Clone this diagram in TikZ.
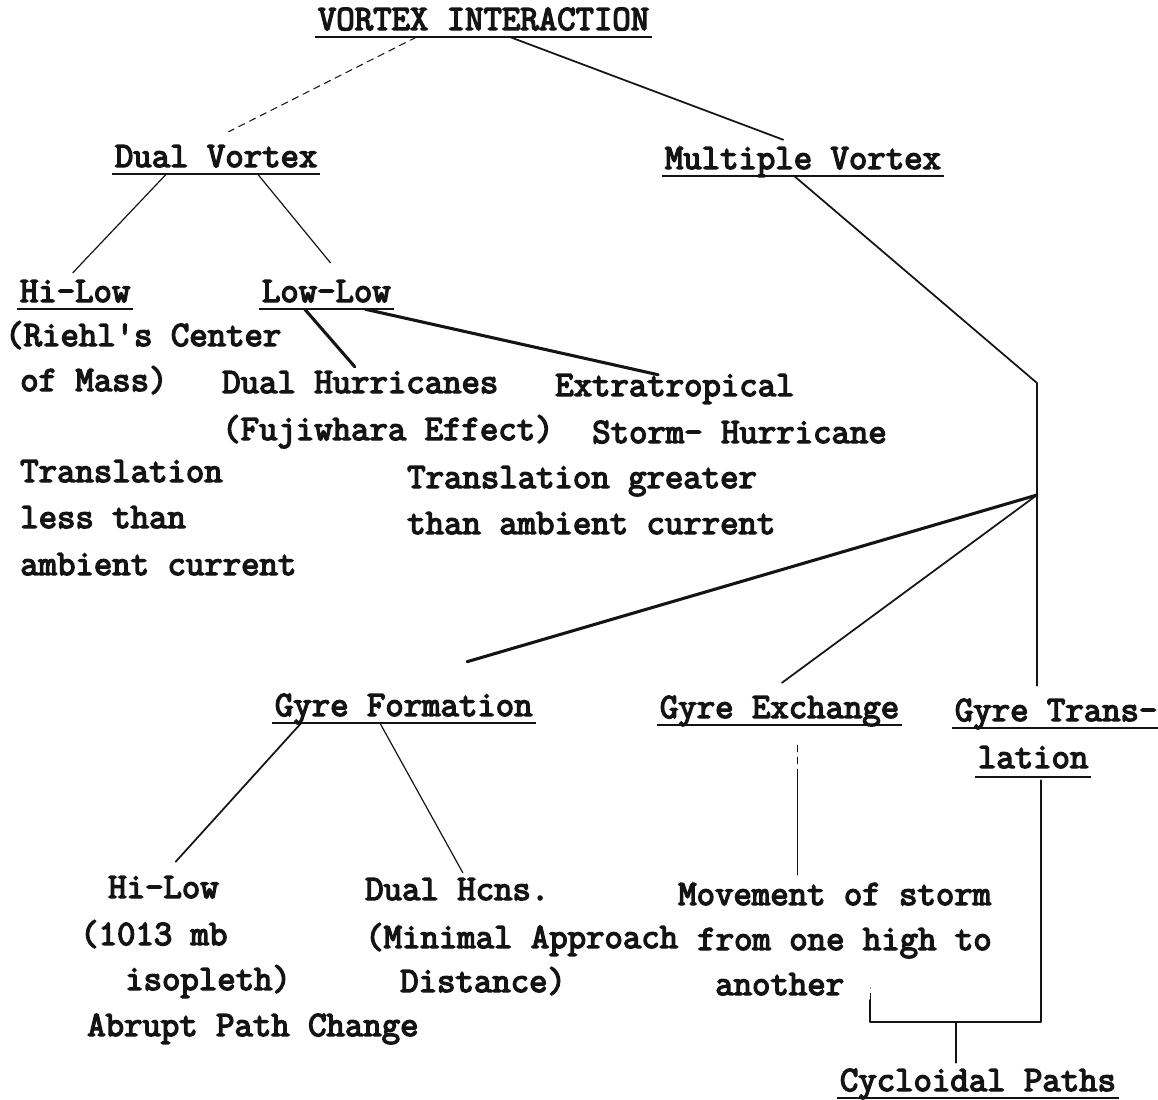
\documentclass[tikz,border=0pt]{standalone}
\usepackage{fontspec}
\newfontfamily\typer{lmmono12-regular}[Extension=.otf, FakeBold=4]
\usetikzlibrary{calc}
\definecolor{inkc}{HTML}{141414}
\tikzset{
  txt/.style={anchor=base west, inner sep=0pt, text height=13.5pt, text depth=5.25pt,
    font=\typer\fontsize{26.8}{30}\selectfont, text=inkc},
  head/.style={txt, inner xsep=2pt},
  uline/.style={draw=inkc, line width=1.3pt},
  link/.style={draw=inkc, line width=1.3pt, line cap=round, line join=round},
  thin/.style={link, line width=0.9pt},
  heavy/.style={link, line width=2.3pt},
  faint/.style={link, line width=0.8pt, dash pattern=on 5pt off 4pt},
}

\begin{document}
\begin{tikzpicture}[x=0.75pt,y=-0.75pt]
\useasboundingbox (0,0) rectangle (1158,1100);

% underlined headings
\node[head] (top) at (315,30) {VORTEX INTERACTION};
\node[head] (dual) at (112,167) {Dual Vortex};
\node[head] (multi) at (662,169) {Multiple Vortex};
\node[head] (hilow) at (17,302) {Hi-Low};
\node[head] (lowlow) at (259,302) {Low-Low};
\node[head] (gform) at (272,716) {Gyre Formation};
\node[head] (gexch) at (657,718) {Gyre Exchange};
\node[head] (gtrans) at (952,721) {Gyre Trans-};
\node[head, text depth=6.75pt] (lation) at (975,768) {lation};
\node[head] (cyc) at (837,1091) {Cycloidal Paths};
\foreach \n in {top,dual,multi,hilow,lowlow,gform,gexch,gtrans,lation,cyc}
  \draw[uline] (\n.south west) -- (\n.south east);

% plain lines of text
\node[txt] (riehlA) at (5,346) {(Riehl's Center};
\node[txt] (riehlB) at (20,391) {of Mass)};
\node[txt] (dualh) at (222,393) {Dual Hurricanes};
\node[txt] (fuji) at (222,440) {(Fujiwhara Effect)};
\node[txt] (extra) at (555,396) {Extratropical};
\node[txt] (storm) at (592,443) {Storm- Hurricane};
\node[txt] (lessA) at (20,482) {Translation};
\node[txt] (lessB) at (20,528) {less than};
\node[txt] (lessC) at (20,575) {ambient current};
\node[txt] (moreA) at (407,488) {Translation greater};
\node[txt] (moreB) at (407,534) {than ambient current};
\node[txt] (hilowB) at (108,898) {Hi-Low};
\node[txt] (mbA) at (80,945) {(1013 mb};
\node[txt] (mbB) at (125,990) {isopleth)};
\node[txt] (abrupt) at (87,1036) {Abrupt Path Change};
\node[txt] (hcns) at (365,900) {Dual Hcns.};
\node[txt] (minA) at (365,948) {(Minimal Approach};
\node[txt] (minB) at (400,992) {Distance)};
\node[txt] (moveA) at (678,905) {Movement of storm};
\node[txt] (moveB) at (697,950) {from one high to};
\node[txt] (moveC) at (715,995) {another};

% upper tree
\draw[faint] ($(top.south west)!.30!(top.south east)$) -- ($(dual.north west)!.56!(dual.north east)+(0,-17)$);
\draw[link] ($(top.south west)!.58!(top.south east)$) -- ($(multi.north west)!.43!(multi.north east)+(0,-11)$);
\draw[thin] ($(dual.south west)!.26!(dual.south east)$) -- ($(hilow.north west)!.48!(hilow.north east)+(0,-11)$);
\draw[thin] ($(dual.south west)!.70!(dual.south east)$) -- ($(lowlow.north west)!.53!(lowlow.north east)+(0,-21)$);
\draw[heavy] ($(lowlow.south west)!.34!(lowlow.south east)$) -- ($(dualh.north west)!.48!(dualh.north east)+(0,-8)$);
\draw[heavy] ($(lowlow.south west)!.79!(lowlow.south east)$) -- ($(extra.north west)!.43!(extra.north east)+(0,-3)$);

% multiple vortex branch
\coordinate (bend) at (1037,383);
\coordinate (fork) at (1037,495);
\draw[link] ($(multi.south west)!.47!(multi.south east)$) -- (bend) -- (fork) -- ($(fork |- gtrans.north)+(0,-17)$);
\draw[heavy] (fork) -- ($(gform.north west)!.74!(gform.north east)+(0,-36)$);
\draw[link] (fork) -- ($(gexch.north west)!.51!(gexch.north east)+(0,-17)$);

% lower tree
\draw[link] ($(gform.south west)!.11!(gform.south east)$) -- ($(hilowB.north west)!.61!(hilowB.north east)+(0,-18)$);
\draw[thin] ($(gform.south west)!.41!(gform.south east)$) -- ($(hcns.north west)!.53!(hcns.north east)+(0,-9)$);
\draw[faint] ($(gexch.south west)!.574!(gexch.south east)+(0,20)$) coordinate (xa) -- ++(0,25) coordinate (xb);
\draw[thin] (xb) -- ($(xb |- moveA.north)+(0,-12)$);

% bracket to cycloidal paths
\draw[link] ($(lation.south west)!.57!(lation.south east)+(0,3)$) |- coordinate[pos=.75] (brk) ($(moveC.base east)+(26,27)$) -- ++(0,-22);
\draw[faint] ($(moveC.base east)+(26,5)$) -- ++(0,-12);
\draw[link] (brk) -- ($(brk |- cyc.north)+(0,-10)$);
\end{tikzpicture}
\end{document}
